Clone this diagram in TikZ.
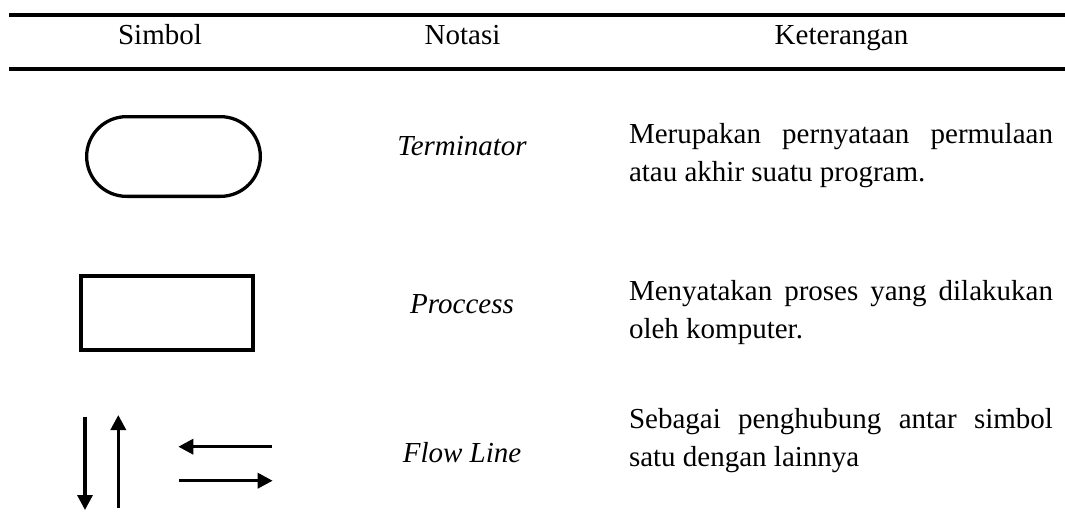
\documentclass[tikz,border=0pt]{standalone}
\usepackage{fontspec}
\setmainfont{Liberation Serif}
\usetikzlibrary{arrows.meta,shapes.misc}
\begin{document}
\begin{tikzpicture}[x=1pt,y=-1pt,
  txt/.style={inner sep=0pt,outer sep=0pt,font=\fontsize{29}{38}\selectfont},
  hdr/.style={txt,anchor=base},
  notasi/.style={txt,anchor=base,font=\fontsize{29}{38}\selectfont\itshape},
  desc/.style={txt,anchor=base west},
  rulel/.style={line width=3.8pt},
  flowarr/.style={line width=3.3pt,-{Triangle[length=15pt,width=15pt]}},
  termbox/.style={draw,line width=3.3pt,rounded rectangle,minimum width=173.7pt,minimum height=79.7pt,inner sep=0pt},
  procbox/.style={draw,line width=4pt,rectangle,minimum width=172pt,minimum height=74pt,inner sep=0pt}
]
\useasboundingbox (0,0) rectangle (1065,523);
% rules
\coordinate (r1a) at (9,15);
\coordinate (r1b) at (1065,15);
\coordinate (r2a) at (9,68.7);
\coordinate (r2b) at (1065,68.7);
\draw[rulel] (r1a) -- (r1b);
\draw[rulel] (r2a) -- (r2b);
% header
\node[hdr] (hs) at (160,44) {Simbol};
\node[hdr] (hn) at (462.5,44) {Notasi};
\node[hdr] (hk) at (841.5,44) {Keterangan};
% symbols
\node[termbox] (term) at (173.5,156.5) {};
\node[procbox] (proc) at (167,313) {};
\coordinate (d1) at (85,416.7);
\coordinate (d2) at (85,510);
\coordinate (u1) at (118.3,508);
\coordinate (u2) at (118.3,415);
\coordinate (l1) at (271.7,446.7);
\coordinate (l2) at (178.3,446.7);
\coordinate (g1) at (179.3,480.7);
\coordinate (g2) at (272.7,480.7);
\draw[flowarr] (d1) -- (d2);
\draw[flowarr] (u1) -- (u2);
\draw[flowarr] (l1) -- (l2);
\draw[flowarr] (g1) -- (g2);
% notasi
\node[notasi] (nt) at (462,155) {Terminator};
\node[notasi] (np) at (462,313) {Proccess};
\node[notasi] (nf) at (462,462) {Flow Line};
% keterangan
\node[desc] (k1a) at (629,143) {\makebox[424pt][s]{Merupakan pernyataan permulaan}};
\node[desc] (k1b) at (629,181) {atau akhir suatu program.};
\node[desc] (k2a) at (629,300) {\makebox[424pt][s]{Menyatakan proses yang dilakukan}};
\node[desc] (k2b) at (629,338) {oleh komputer.};
\node[desc] (k3a) at (629,428) {\makebox[424pt][s]{Sebagai penghubung antar simbol}};
\node[desc] (k3b) at (629,466) {satu dengan lainnya};
\end{tikzpicture}
\end{document}
